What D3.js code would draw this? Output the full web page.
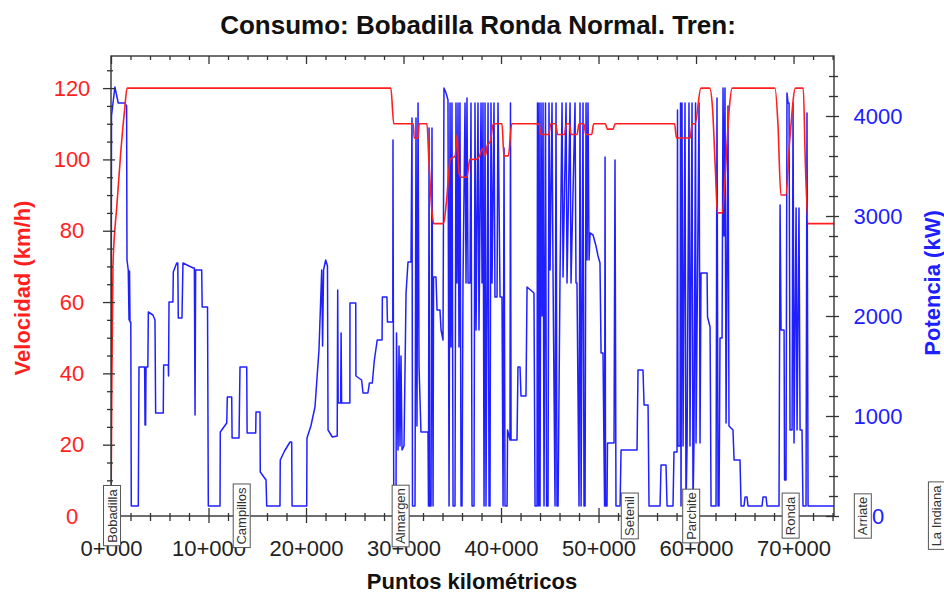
<!DOCTYPE html>
<html><head><meta charset="utf-8">
<script src="https://cdn.jsdelivr.net/npm/d3@7"></script>
<style>body{margin:0;background:#fff}svg{display:block;font-family:"Liberation Sans",Arial,sans-serif}</style>
</head><body><svg id="c" width="944" height="596"></svg>
<script>
// ---- data ----
const speedKm = [0,0.08,0.2,0.6,1.0,1.4,1.65,28.7,29.0,31.0,31.1,31.5,31.6,32.4,32.6,32.9,33.1,34.1,34.4,34.8,35.3,35.5,35.7,36.0,36.5,36.8,37.4,37.8,38.1,38.4,38.6,38.9,39.2,40.1,40.3,40.75,41.1,43.9,44.1,44.9,45.1,45.6,45.8,46.5,46.7,47.0,47.2,47.8,48.0,48.5,48.7,49.3,49.5,50.7,50.9,51.5,51.7,57.8,58.0,59.4,59.6,59.9,60.5,61.4,61.7,62.0,62.2,62.7,63.0,63.4,63.7,68.1,68.4,68.7,69.2,69.6,70.2,71.0,71.2,71.5,74.15];
const speedKmh = [0,35,70,87,102,114,120,120,110,110,106,106,110,110,100,86,82,82,88,100,101,107,96,95,95,100,100,101,103,101,104,105,110,110,101,101,110,110,107,107,110,110,107,107,110,110,107,107,110,110,107,107,110,110,108.5,108.5,110,110,106,106,110,110,120,120,114,96,85,85,96,114,120,120,110,90,90,105,120,120,100,82,82];

const powerKm = [0,0.05,0.4,0.74,1.44,1.6,1.64,1.77,1.85,1.9,1.95,2.03,2.08,2.8,2.87,3.45,3.49,3.55,3.59,3.78,3.83,4.3,4.51,4.58,5.36,5.4,5.88,5.9,5.95,6.35,6.39,6.74,6.85,6.9,7.28,7.38,8.0,8.44,8.55,8.62,8.68,9.3,9.35,9.9,9.98,11.18,11.21,11.87,11.93,12.38,12.42,13.13,13.23,13.92,13.96,14.84,14.87,15.28,15.31,15.9,15.97,17.33,17.36,17.8,18.36,18.53,18.57,20.07,20.1,20.5,20.92,21.33,21.61,21.7,21.8,22.02,22.2,22.26,22.7,23.2,23.25,23.3,23.55,23.6,23.65,24.5,24.51,25.1,25.12,25.7,25.85,26.35,26.5,26.8,27.0,27.3,27.8,27.83,28.3,28.35,28.9,28.92,29.0,29.23,29.28,29.44,29.54,29.64,29.74,29.85,30.05,30.26,30.46,30.77,30.87,30.92,31.18,31.28,31.38,31.49,31.59,31.79,32.51,32.56,32.62,32.67,32.82,32.92,33.03,33.08,33.33,33.44,33.74,33.85,34.05,34.15,34.36,34.56,34.67,34.77,34.87,34.97,35.08,35.28,35.38,35.49,35.59,35.69,35.79,35.9,36.0,36.1,36.31,36.41,36.51,36.62,36.82,36.92,37.03,37.23,37.33,37.44,37.64,37.74,37.95,38.05,38.15,38.26,38.36,38.46,38.67,38.77,38.87,38.97,39.08,39.28,39.38,39.59,39.69,39.9,40.1,40.21,40.31,40.41,40.62,40.67,40.92,40.97,41.03,41.64,41.74,41.95,42.05,42.56,42.67,43.38,43.49,43.69,43.74,43.85,43.9,44.0,44.1,44.21,44.31,44.41,44.56,44.67,44.82,44.92,45.03,45.23,45.33,45.54,45.64,45.74,45.85,46.05,46.26,46.36,46.67,46.77,47.08,47.18,47.59,47.69,47.79,48.0,48.1,48.21,48.41,48.51,48.62,48.72,48.82,48.92,49.03,49.13,49.44,49.74,49.95,50.15,50.26,50.46,50.62,50.67,50.72,50.87,50.92,51.59,51.69,51.79,52.21,52.31,53.95,54.05,54.56,54.67,55.08,55.18,56.31,56.41,56.92,57.03,57.64,57.74,58.05,58.1,58.15,58.36,58.41,58.46,58.56,58.67,58.87,58.97,59.08,59.28,59.38,59.59,59.69,59.79,59.95,60.0,60.31,60.41,60.51,61.13,61.18,61.44,61.54,62.05,62.15,62.26,62.36,62.46,62.67,62.77,62.87,62.97,63.08,63.28,63.38,63.79,63.9,64.51,64.62,64.92,65.03,65.23,65.33,66.77,66.87,67.18,67.28,68.51,68.62,68.72,69.03,69.08,69.23,69.33,69.44,69.54,69.64,69.85,69.95,70.05,70.26,70.36,70.56,70.67,70.87,70.97,71.28,71.38,71.49,74.15];
const powerKW = [0,4000,4290,4130,4130,4100,2560,2460,1960,2450,1940,1940,100,100,1490,1490,910,910,1490,1490,2040,2010,1960,1030,1030,1510,1510,1400,2140,2140,2440,2530,2530,1980,1980,2530,2500,2480,2480,1010,2460,2460,2090,2090,100,100,840,930,1190,1190,780,780,1490,1490,830,830,1040,1040,440,360,100,100,560,650,740,740,100,100,780,900,1090,1660,2460,1700,2460,2560,2500,860,790,800,2260,1130,1130,1830,1130,1130,2130,2130,1400,1360,1230,1230,1330,1330,1550,1760,1760,2190,2190,1940,1940,3760,100,100,1830,660,1700,700,1600,660,700,2230,2540,2540,3980,100,100,3980,900,4130,1500,840,840,100,3880,100,100,3880,100,2390,2390,2060,2060,1860,1760,4280,4230,4160,100,4130,1690,4130,100,100,4130,2330,4130,1690,4130,100,100,2330,4130,2330,4180,2330,2330,4130,100,100,4130,1860,4130,1860,4130,2330,4130,100,4130,100,4130,100,100,4130,2330,4130,2190,2190,4130,2190,2190,100,3680,100,100,860,760,4130,760,760,1490,1490,1200,1200,2290,2230,100,100,4130,100,4130,100,4130,2000,4130,100,4130,100,100,4130,2460,4130,2460,100,4130,100,100,2390,4130,2390,4130,2330,4130,2330,4130,2330,2330,100,4130,100,4130,100,100,4130,2560,4130,2560,2830,2810,2700,2600,2530,1630,1630,100,3590,100,100,730,730,3560,100,100,660,660,1460,1460,1110,1110,100,100,510,510,100,100,640,640,4060,700,700,4130,100,4130,700,4130,100,700,4130,700,4130,100,730,4130,730,4130,730,2430,2430,1990,1890,100,100,4180,100,100,1780,1780,4280,2800,4280,930,4100,900,860,560,560,100,100,190,190,100,100,190,190,100,100,3110,1860,1860,360,360,4230,4130,4130,860,860,4130,730,3080,860,3080,860,860,100,100,4030,100,100];

const xTickValues = [0,10,20,30,40,50,60,70];
const xTickLabels = ["0+000","10+000","20+000","30+000","40+000","50+000","60+000","70+000"];
const speedTicks = [0,20,40,60,80,100,120];
const powerTicks = [0,1000,2000,3000,4000];
const stationNames = ["Bobadilla","Campillos","Almargen","Setenil","Parchite","Ronda","Arriate","La Indiana"];
const stationKm = [0.1,13.4,29.7,53.2,59.5,69.7,77.1,84.7];

const titleText = "Consumo: Bobadilla Ronda Normal. Tren:";
const xTitle = "Puntos kilométricos";
const yLeftTitle = "Velocidad (km/h)";
const yRightTitle = "Potencia (kW)";

// ---- layout ----
const L = 111, R = 834, T = 56, B = 516;
const RED = "#ff1f1f", BLUE = "#2020ff", AX = "#333";
const svg = d3.select("#c");

const x = d3.scaleLinear().domain([0, 74.15]).range([L, R]);
const yS = d3.scaleLinear().domain([0, 129]).range([B, T]);
const yP = d3.scaleLinear().domain([0, 4600]).range([B, T]);

svg.append("defs").append("clipPath").attr("id","clip")
  .append("rect").attr("x",L).attr("y",T).attr("width",R-L).attr("height",B-T);

// power line
const pData = powerKm.map((k,i)=>[k,powerKW[i]]);
svg.append("path").attr("clip-path","url(#clip)")
  .attr("d", d3.line().x(d=>x(d[0])).y(d=>yP(d[1]))(pData))
  .attr("fill","none").attr("stroke",BLUE).attr("stroke-width",1.5).attr("stroke-linejoin","round");

// speed line
const sData = speedKm.map((k,i)=>[k,speedKmh[i]]);
svg.append("path").attr("clip-path","url(#clip)")
  .attr("d", d3.line().x(d=>x(d[0])).y(d=>yS(d[1])).curve(d3.curveMonotoneX)(sData))
  .attr("fill","none").attr("stroke",RED).attr("stroke-width",1.6).attr("stroke-linejoin","round");

// frame
svg.append("rect").attr("x",L).attr("y",T).attr("width",R-L).attr("height",B-T)
  .attr("fill","none").attr("stroke",AX).attr("stroke-width",1.4);

function styleAxis(g){ g.select(".domain").remove(); g.selectAll("line").attr("stroke",AX).attr("stroke-width",1.3); }

// bottom axis
const minorX = d3.range(0, 74.2, 2).filter(v => v % 10 !== 0);
const gBm = svg.append("g").attr("transform",`translate(0,${B})`).call(d3.axisBottom(x).tickValues(minorX).tickFormat("").tickSize(5));
styleAxis(gBm); gBm.selectAll("line").attr("y1",-3);
const gB = svg.append("g").attr("transform",`translate(0,${B})`)
  .call(d3.axisBottom(x).tickValues(xTickValues).tickFormat((d,i)=>xTickLabels[i]).tickSize(7));
styleAxis(gB); gB.selectAll("line").attr("y1",-8);
gB.selectAll("text").attr("y",24).attr("dy","0.71em").attr("font-size",22).attr("fill","#222").attr("font-family","Liberation Sans, Arial, sans-serif");

// top axis ticks (inward)
const gTm = svg.append("g").attr("transform",`translate(0,${T})`).call(d3.axisBottom(x).tickValues(minorX).tickFormat("").tickSize(4));
styleAxis(gTm);
const gT = svg.append("g").attr("transform",`translate(0,${T})`).call(d3.axisBottom(x).tickValues(xTickValues).tickFormat("").tickSize(8));
styleAxis(gT);

// left axis
const minorS = d3.range(0, 129, 5).filter(v => v % 20 !== 0);
const gLm = svg.append("g").attr("transform",`translate(${L},0)`).call(d3.axisLeft(yS).tickValues(minorS).tickFormat("").tickSize(4));
styleAxis(gLm); gLm.selectAll("line").attr("x1",2);
const gL = svg.append("g").attr("transform",`translate(${L},0)`).call(d3.axisLeft(yS).tickValues(speedTicks).tickFormat(d3.format("d")).tickSize(8));
styleAxis(gL); gL.selectAll("line").attr("x1",4);
gL.selectAll("text").attr("x",-39).attr("text-anchor","middle").attr("font-size",22).attr("fill",RED).attr("font-family","Liberation Sans, Arial, sans-serif");

// right axis
const minorP = d3.range(0, 4600, 200).filter(v => v % 1000 !== 0);
const gRm = svg.append("g").attr("transform",`translate(${R},0)`).call(d3.axisRight(yP).tickValues(minorP).tickFormat("").tickSize(4));
styleAxis(gRm); gRm.selectAll("line").attr("x1",-5);
const gR = svg.append("g").attr("transform",`translate(${R},0)`).call(d3.axisRight(yP).tickValues(powerTicks).tickFormat(d3.format("d")).tickSize(5));
styleAxis(gR); gR.selectAll("line").attr("x1",-8);
gR.selectAll("text").attr("x",44).attr("text-anchor","middle").attr("font-size",22).attr("fill",BLUE).attr("font-family","Liberation Sans, Arial, sans-serif");

// titles
svg.append("text").attr("x",478).attr("y",25).attr("dy","0.35em").attr("text-anchor","middle")
  .attr("font-weight","bold").attr("font-size",26).attr("fill","#111").text(titleText);
svg.append("text").attr("x",472).attr("y",581).attr("dy","0.35em").attr("text-anchor","middle")
  .attr("font-weight","bold").attr("font-size",22).attr("fill","#111").text(xTitle);
svg.append("text").attr("transform","translate(22,288) rotate(-90)").attr("dy","0.35em").attr("text-anchor","middle")
  .attr("font-weight","bold").attr("font-size",22).attr("fill",RED).text(yLeftTitle);
svg.append("text").attr("transform","translate(932,283) rotate(-90)").attr("dy","0.35em").attr("text-anchor","middle")
  .attr("font-weight","bold").attr("font-size",22).attr("fill",BLUE).text(yRightTitle);

// station labels
stationNames.forEach((name,i)=>{
  const g = svg.append("g").attr("transform",`translate(${x(stationKm[i])},${B}) rotate(-90)`);
  const r = g.append("rect");
  const t = g.append("text").attr("text-anchor","middle").attr("dy","0.35em")
    .attr("font-size",13).attr("fill","#333").text(name);
  const bb = t.node().getBBox();
  r.attr("x",bb.x-3).attr("y",bb.y-1).attr("width",bb.width+6).attr("height",bb.height+2)
   .attr("fill","#fff").attr("stroke","#555").attr("stroke-width",1);
});
</script>
</body></html>
